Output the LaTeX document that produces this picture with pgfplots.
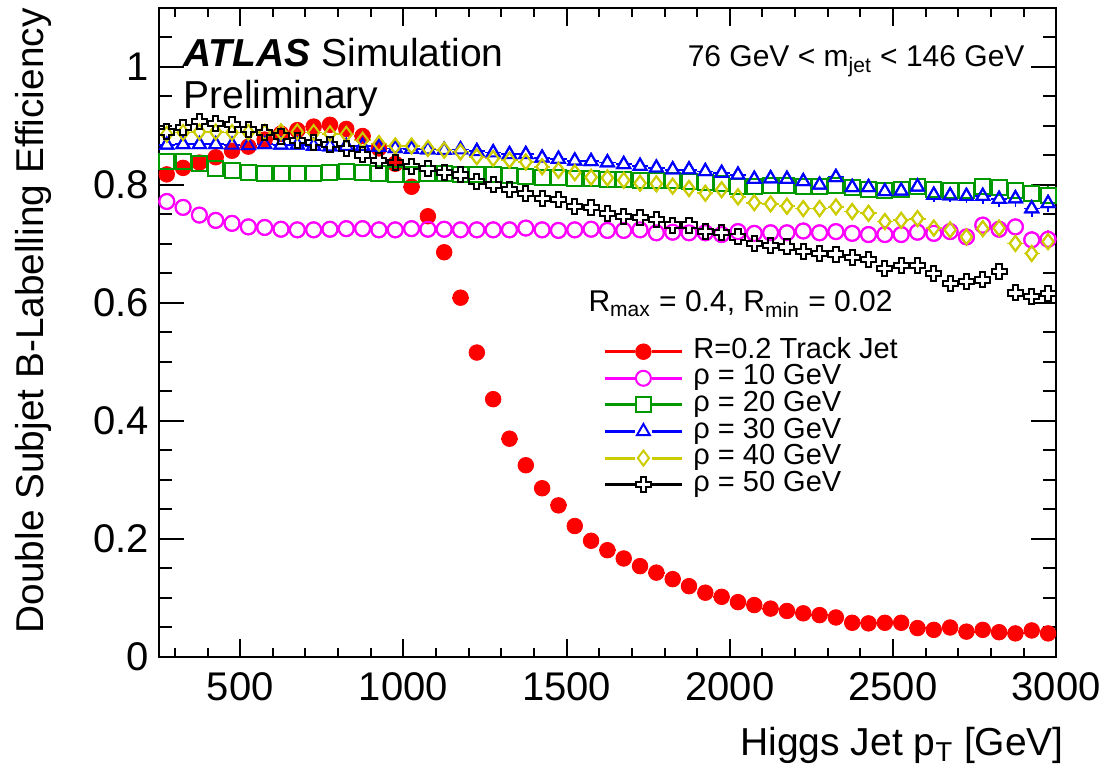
\documentclass[border=0pt]{standalone}
\usepackage{fontspec}
\setmainfont{Liberation Sans}
\usepackage{pgfplots}
\pgfplotsset{compat=1.18}
\usepackage{pgfplotstable}

\definecolor{rootred}{HTML}{FF0000}
\definecolor{rootmag}{HTML}{FF00FF}
\definecolor{rootgreen}{HTML}{009900}
\definecolor{rootblue}{HTML}{0000FF}
\definecolor{rootyellow}{HTML}{CCCC00}

% ROOT style open cross (marker 28)
\pgfdeclareplotmark{opencross}{%
  \pgfpathmoveto{\pgfpoint{-0.35\pgfplotmarksize}{\pgfplotmarksize}}%
  \pgfpathlineto{\pgfpoint{0.35\pgfplotmarksize}{\pgfplotmarksize}}%
  \pgfpathlineto{\pgfpoint{0.35\pgfplotmarksize}{0.35\pgfplotmarksize}}%
  \pgfpathlineto{\pgfpoint{\pgfplotmarksize}{0.35\pgfplotmarksize}}%
  \pgfpathlineto{\pgfpoint{\pgfplotmarksize}{-0.35\pgfplotmarksize}}%
  \pgfpathlineto{\pgfpoint{0.35\pgfplotmarksize}{-0.35\pgfplotmarksize}}%
  \pgfpathlineto{\pgfpoint{0.35\pgfplotmarksize}{-\pgfplotmarksize}}%
  \pgfpathlineto{\pgfpoint{-0.35\pgfplotmarksize}{-\pgfplotmarksize}}%
  \pgfpathlineto{\pgfpoint{-0.35\pgfplotmarksize}{-0.35\pgfplotmarksize}}%
  \pgfpathlineto{\pgfpoint{-\pgfplotmarksize}{-0.35\pgfplotmarksize}}%
  \pgfpathlineto{\pgfpoint{-\pgfplotmarksize}{0.35\pgfplotmarksize}}%
  \pgfpathlineto{\pgfpoint{-0.35\pgfplotmarksize}{0.35\pgfplotmarksize}}%
  \pgfpathclose\pgfusepathqstroke}
\pgfdeclareplotmark{opencross*}{%
  \pgfpathmoveto{\pgfpoint{-0.35\pgfplotmarksize}{\pgfplotmarksize}}%
  \pgfpathlineto{\pgfpoint{0.35\pgfplotmarksize}{\pgfplotmarksize}}%
  \pgfpathlineto{\pgfpoint{0.35\pgfplotmarksize}{0.35\pgfplotmarksize}}%
  \pgfpathlineto{\pgfpoint{\pgfplotmarksize}{0.35\pgfplotmarksize}}%
  \pgfpathlineto{\pgfpoint{\pgfplotmarksize}{-0.35\pgfplotmarksize}}%
  \pgfpathlineto{\pgfpoint{0.35\pgfplotmarksize}{-0.35\pgfplotmarksize}}%
  \pgfpathlineto{\pgfpoint{0.35\pgfplotmarksize}{-\pgfplotmarksize}}%
  \pgfpathlineto{\pgfpoint{-0.35\pgfplotmarksize}{-\pgfplotmarksize}}%
  \pgfpathlineto{\pgfpoint{-0.35\pgfplotmarksize}{-0.35\pgfplotmarksize}}%
  \pgfpathlineto{\pgfpoint{-\pgfplotmarksize}{-0.35\pgfplotmarksize}}%
  \pgfpathlineto{\pgfpoint{-\pgfplotmarksize}{0.35\pgfplotmarksize}}%
  \pgfpathlineto{\pgfpoint{-0.35\pgfplotmarksize}{0.35\pgfplotmarksize}}%
  \pgfpathclose\pgfusepathqfillstroke}

% x r m g b yl k e : bin centre, efficiency per series, stat. error
\pgfplotstableread{
x r m g b yl k e
275 0.818 0.772 0.840 0.868 0.886 0.890 0.003
325 0.829 0.762 0.840 0.869 0.889 0.898 0.003
375 0.838 0.749 0.837 0.869 0.890 0.907 0.003
425 0.847 0.740 0.828 0.869 0.890 0.904 0.003
475 0.858 0.735 0.824 0.868 0.889 0.902 0.003
525 0.865 0.729 0.821 0.867 0.889 0.894 0.003
575 0.877 0.728 0.820 0.869 0.889 0.889 0.003
625 0.887 0.725 0.820 0.868 0.890 0.883 0.003
675 0.893 0.724 0.820 0.868 0.890 0.875 0.003
725 0.899 0.724 0.819 0.866 0.889 0.872 0.003
775 0.902 0.725 0.821 0.865 0.887 0.868 0.003
825 0.895 0.726 0.823 0.866 0.886 0.862 0.003
875 0.883 0.726 0.821 0.866 0.876 0.851 0.003
925 0.862 0.724 0.820 0.864 0.870 0.842 0.003
975 0.836 0.724 0.818 0.862 0.866 0.838 0.003
1025 0.797 0.726 0.818 0.861 0.866 0.831 0.003
1075 0.747 0.725 0.820 0.860 0.862 0.828 0.003
1125 0.686 0.725 0.819 0.859 0.859 0.821 0.003
1175 0.609 0.724 0.817 0.860 0.856 0.817 0.003
1225 0.516 0.724 0.817 0.857 0.848 0.806 0.003
1275 0.437 0.724 0.817 0.855 0.845 0.800 0.003
1325 0.370 0.724 0.816 0.852 0.842 0.792 0.003
1375 0.325 0.727 0.814 0.852 0.839 0.786 0.003
1425 0.286 0.724 0.812 0.846 0.831 0.777 0.003
1475 0.257 0.723 0.813 0.844 0.825 0.775 0.003
1525 0.222 0.724 0.811 0.841 0.821 0.764 0.004
1575 0.197 0.725 0.811 0.840 0.813 0.762 0.004
1625 0.181 0.723 0.810 0.838 0.812 0.752 0.004
1675 0.167 0.723 0.810 0.835 0.808 0.746 0.004
1725 0.154 0.724 0.808 0.832 0.803 0.745 0.004
1775 0.143 0.719 0.808 0.829 0.802 0.742 0.004
1825 0.132 0.720 0.808 0.826 0.798 0.732 0.005
1875 0.120 0.719 0.806 0.826 0.794 0.732 0.005
1925 0.109 0.719 0.804 0.823 0.786 0.721 0.005
1975 0.102 0.716 0.803 0.820 0.792 0.719 0.005
2025 0.093 0.721 0.798 0.817 0.780 0.712 0.006
2075 0.088 0.718 0.798 0.810 0.770 0.701 0.006
2125 0.082 0.719 0.799 0.811 0.768 0.698 0.006
2175 0.078 0.719 0.799 0.810 0.764 0.695 0.006
2225 0.074 0.722 0.798 0.806 0.760 0.687 0.007
2275 0.071 0.719 0.797 0.800 0.760 0.684 0.007
2325 0.067 0.721 0.799 0.813 0.763 0.683 0.007
2375 0.058 0.718 0.795 0.796 0.755 0.677 0.008
2425 0.057 0.716 0.792 0.796 0.752 0.674 0.008
2475 0.058 0.716 0.790 0.789 0.738 0.659 0.009
2525 0.058 0.716 0.793 0.790 0.740 0.663 0.009
2575 0.049 0.720 0.798 0.797 0.743 0.664 0.010
2625 0.046 0.718 0.792 0.783 0.727 0.650 0.011
2675 0.050 0.721 0.791 0.782 0.724 0.633 0.011
2725 0.043 0.712 0.791 0.781 0.712 0.636 0.012
2775 0.046 0.732 0.797 0.781 0.726 0.639 0.013
2825 0.042 0.725 0.796 0.776 0.727 0.653 0.013
2875 0.040 0.729 0.791 0.777 0.701 0.617 0.014
2925 0.045 0.707 0.786 0.760 0.684 0.611 0.015
2975 0.040 0.708 0.783 0.769 0.704 0.616 0.015
}\effdata

\pgfplotsset{
  rootleg/.style={legend image code/.code={
      \draw[##1, mark=none, line width=1.5pt] (0pt,0pt) -- (15pt,0pt) (23.5pt,0pt) -- (38.5pt,0pt);
      \draw[##1, only marks] plot coordinates {(19.25pt,0pt)};
  }},
  % first pass: error bars + white-filled marker (hides bar inside marker)
  errpass/.style={forget plot, only marks, color=#1, mark size=3.75pt,
      mark options={fill=white, line width=1pt},
      error bars/.cd, x dir=both, x fixed=25, y dir=both, y explicit,
      error mark=none, error bar style={line width=0.9pt, #1},
      /pgfplots/.cd},
  % second pass: open outline on top
  outpass/.style={only marks, color=#1, mark size=3.75pt,
      mark options={line width=1pt}, rootleg},
}

\newcommand{\fs}[1]{\fontsize{#1}{#1}\selectfont}

\begin{document}
\begin{tikzpicture}
\begin{axis}[
  scale only axis,
  width=448.8pt, height=324.5pt,
  xmin=250, xmax=3000, ymin=0, ymax=1.1,
  xtick={500,1000,...,3000},
  minor xtick={300,400,...,2900},
  ytick={0,0.2,0.4,0.6,0.8,1},
  minor ytick={0.05,0.1,...,1.06},
  tick pos=both, tick align=inside,
  major tick length=12.5pt, minor tick length=6.5pt,
  major x tick style={/pgfplots/major tick length=9pt},
  minor x tick style={/pgfplots/minor tick length=4.7pt},
  axis line style={line width=1pt},
  every tick/.style={black, line width=1pt},
  scaled ticks=false,
  /pgf/number format/assume math mode=true,
  /pgf/number format/1000 sep={},
  tick label style={font=\fs{20}},
  xticklabel style={anchor=north, inner sep=0pt, yshift=-7.5pt},
  yticklabel style={anchor=east, inner sep=0pt, xshift=-4.5pt},
  xlabel={Higgs Jet p\textsubscript{T} [GeV]},
  ylabel={Double Subjet B-Labelling Efficiency},
  every axis x label/.style={at={(axis description cs:1,-0.151)}, anchor=base east, inner sep=0pt, xshift=4pt, font=\fs{19.5}},
  every axis y label/.style={at={(axis description cs:-0.1235,1)}, rotate=90, anchor=south east, inner sep=0pt, yshift=-2pt, font=\fs{19.4}},
  legend style={at={(axis cs:1611.5,0.5407)}, anchor=north west, draw=none, fill=none,
    inner sep=0pt, row sep=0pt, column sep=5pt, font=\fs{14.5},
    nodes={inner sep=0pt, text height=10pt, text depth=3.3pt}},
  legend cell align=left,
]
% pass 1: open series with their error bars
\addplot[mark=*, errpass=rootmag] table[x=x, y=m, y error=e] {\effdata};
\addplot[mark=square*, errpass=rootgreen] table[x=x, y=g, y error=e] {\effdata};
\addplot[mark=triangle*, errpass=rootblue] table[x=x, y=b, y error=e] {\effdata};
\addplot[mark=diamond*, errpass=rootyellow] table[x=x, y=yl, y error=e] {\effdata};
\addplot[mark=opencross*, errpass=black] table[x=x, y=k, y error=e] {\effdata};
% track jet reference
\addplot[only marks, color=rootred, mark=*, mark size=3.9pt, rootleg,
  error bars/.cd, x dir=both, x fixed=25, y dir=both, y fixed=0.003,
  error mark=none, error bar style={line width=0.9pt}]
  table[x=x, y=r] {\effdata};
\addlegendentry{R=0.2 Track Jet}
% pass 2: open outlines
\addplot[outpass=rootmag, mark=o] table[x=x, y=m] {\effdata};
\addlegendentry{ρ = 10 GeV}
\addplot[outpass=rootgreen, mark=square] table[x=x, y=g] {\effdata};
\addlegendentry{ρ = 20 GeV}
\addplot[outpass=rootblue, mark=triangle] table[x=x, y=b] {\effdata};
\addlegendentry{ρ = 30 GeV}
\addplot[outpass=rootyellow, mark=diamond] table[x=x, y=yl] {\effdata};
\addlegendentry{ρ = 40 GeV}
\addplot[outpass=black, mark=opencross] table[x=x, y=k] {\effdata};
\addlegendentry{ρ = 50 GeV}

\node[anchor=base west, inner sep=0pt, font=\fs{19.5}] at (axis cs:325,1.0) {\textbf{\textit{ATLAS}} Simulation};
\node[anchor=base west, inner sep=0pt, font=\fs{19.5}] at (axis cs:325,0.930) {Preliminary};
\node[anchor=base east, inner sep=0pt, font=\fs{15}] at (axis cs:2904,1.0) {76 GeV < m\textsubscript{jet} < 146 GeV};
\node[anchor=base west, inner sep=0pt, font=\fs{15}] at (axis cs:1566,0.585) {R\textsubscript{max} = 0.4, R\textsubscript{min} = 0.02};
\end{axis}
\path ([xshift=-79.3pt, yshift=-56.5pt]current axis.south west) rectangle ([xshift=22.9pt, yshift=4pt]current axis.north east);
\end{tikzpicture}
\end{document}
